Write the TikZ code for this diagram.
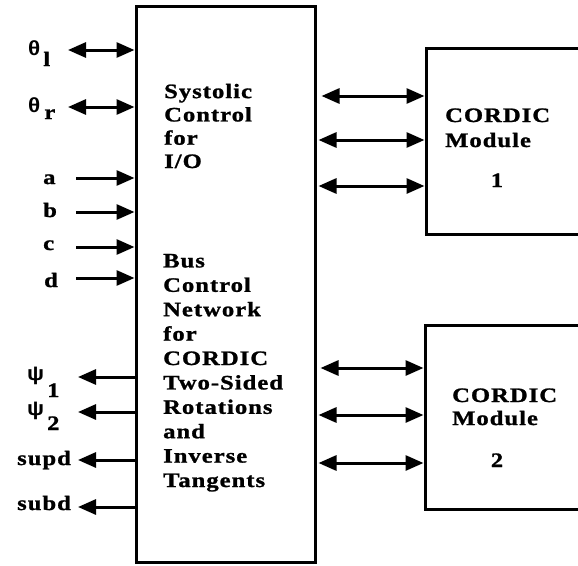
\documentclass[tikz,border=0pt]{standalone}
\usepackage{fontspec}
\setmainfont{Liberation Serif}
\newfontfamily\lblfont[LetterSpace=5,FakeStretch=1.2,FakeBold=1.2]{Liberation Serif Bold}
\newfontfamily\symfont[FakeStretch=1.1]{Liberation Sans Bold}
\usetikzlibrary{arrows.meta}
\begin{document}
\begin{tikzpicture}[x=1pt,y=-1pt,
  box/.style={draw, line width=3pt, inner sep=0pt},
  conn/.style={line width=3pt, -{Triangle[length=18pt,width=15pt]}},
  dbl/.style={line width=3pt, {Triangle[length=18pt,width=15pt]}-{Triangle[length=18pt,width=15pt]}},
  txt/.style={inner sep=0pt, font=\lblfont\fontsize{20.5}{23.3}\selectfont},
  lbl/.style={txt, anchor=base west},
  block/.style={txt, anchor=base west, align=left}
]
\useasboundingbox (0,0) rectangle (578,565);
\clip (0,0) rectangle (578,565);
% boxes
\node[box, minimum width=179pt, minimum height=556pt] (main) at (225.5,284) {};
\node[box, minimum width=200pt, minimum height=186pt] (m1) at (526,141) {};
\node[box, minimum width=200pt, minimum height=184pt] (m2) at (525,417) {};
% texts in boxes (anchor = baseline of last line)
\node[block] (t1) at (164,168) {Systolic\\Control\\for\\I/O};
\node[block, font=\lblfont\fontsize{20.5}{24.4}\selectfont] (t2) at (163,487) {Bus\\Control\\Network\\for\\CORDIC\\Two-Sided\\Rotations\\and\\Inverse\\Tangents};
\node[block, font=\lblfont\fontsize{20.5}{25}\selectfont] (c1) at (445,147) {CORDIC\\Module};
\node[lbl, anchor=base] (n1) at (497,187) {1};
\node[block, font=\lblfont\fontsize{20.5}{23}\selectfont] (c2) at (452,425) {CORDIC\\Module};
\node[lbl, anchor=base] (n2) at (497,467) {2};
% left labels
\node[lbl] (thl) at (28,55) {{\symfont θ}\kern3pt\raisebox{-11pt}{l}};
\node[lbl] (thr) at (28,112) {{\symfont θ}\kern4pt\raisebox{-7pt}{r}};
\node[lbl] (la) at (43,184) {a};
\node[lbl] (lb) at (43,217) {b};
\node[lbl] (lc) at (43,250) {c};
\node[lbl] (ld) at (44,287) {d};
\node[lbl] (ps1) at (27,380) {{\symfont ψ}\kern3pt\raisebox{-17pt}{1}};
\node[lbl] (ps2) at (27,415) {{\symfont ψ}\kern3pt\raisebox{-15pt}{2}};
\node[lbl] (supd) at (17,465) {supd};
\node[lbl] (subd) at (17,510) {subd};
% free ends
\coordinate (ethl) at (68,50);
\coordinate (ethr) at (68,107);
\coordinate (ea) at (76,178);
\coordinate (eb) at (76,212);
\coordinate (ec) at (76,247);
\coordinate (ed) at (76,278);
\coordinate (eps1) at (78,377);
\coordinate (eps2) at (78,412);
\coordinate (esupd) at (78,460);
\coordinate (esubd) at (78,507);
% left connectors
\draw[dbl] (ethl) -- (main.west |- ethl);
\draw[dbl] (ethr) -- (main.west |- ethr);
\draw[conn] (ea) -- (main.west |- ea);
\draw[conn] (eb) -- (main.west |- eb);
\draw[conn] (ec) -- (main.west |- ec);
\draw[conn] (ed) -- (main.west |- ed);
\draw[conn] (main.west |- eps1) -- (eps1);
\draw[conn] (main.west |- eps2) -- (eps2);
\draw[conn] (main.west |- esupd) -- (esupd);
\draw[conn] (main.west |- esubd) -- (esubd);
% right connectors
\draw[dbl] ([xshift=5pt]main.east |- 0,96) -- (m1.west |- 0,96);
\draw[dbl] ([xshift=2pt]main.east |- 0,140) -- (m1.west |- 0,140);
\draw[dbl] ([xshift=2pt]main.east |- 0,186) -- (m1.west |- 0,186);
\draw[dbl] ([xshift=4pt]main.east |- 0,368) -- (m2.west |- 0,368);
\draw[dbl] ([xshift=2pt]main.east |- 0,415) -- (m2.west |- 0,415);
\draw[dbl] ([xshift=2pt]main.east |- 0,463) -- (m2.west |- 0,463);
\end{tikzpicture}
\end{document}
